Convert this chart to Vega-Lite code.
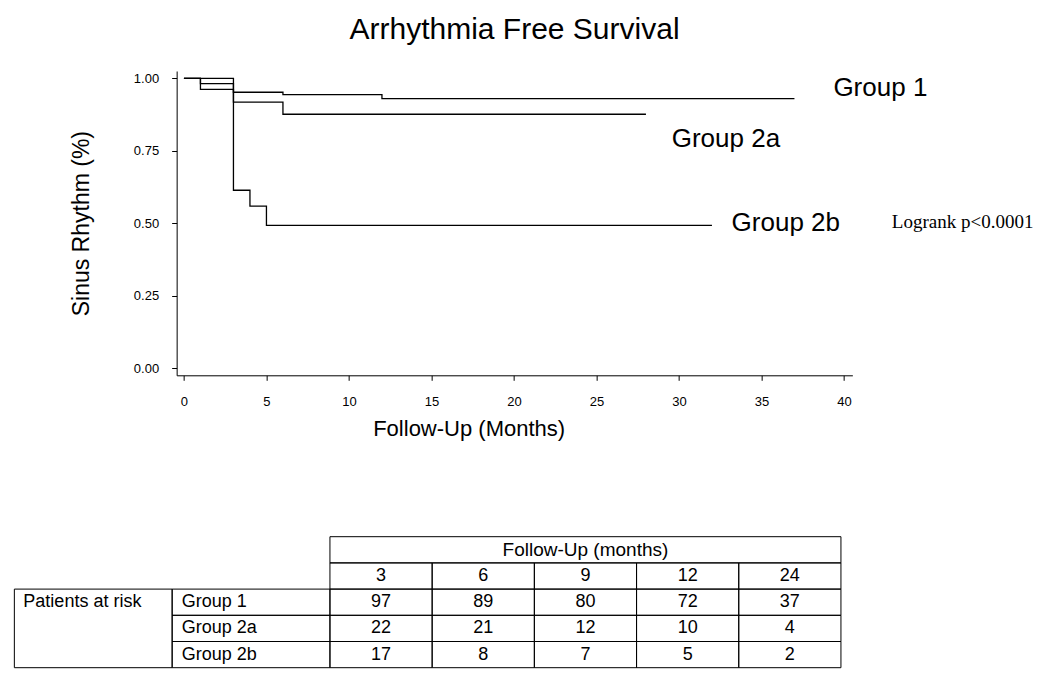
{
  "$schema": "https://vega.github.io/schema/vega-lite/v6.json",
  "background": "white",
  "padding": {"left": 13, "top": 15, "right": 5, "bottom": 4},
  "bounds": "flush",
  "center": true,
  "spacing": 160.7,
  "datasets": {
    "km": [
      {"group": "Group 1", "month": 0, "surv": 1},
      {"group": "Group 1", "month": 1, "surv": 0.982},
      {"group": "Group 1", "month": 3, "surv": 0.952},
      {"group": "Group 1", "month": 6, "surv": 0.944},
      {"group": "Group 1", "month": 12, "surv": 0.93},
      {"group": "Group 1", "month": 37, "surv": 0.93},
      {"group": "Group 2a", "month": 0, "surv": 1},
      {"group": "Group 2a", "month": 1, "surv": 0.962},
      {"group": "Group 2a", "month": 3, "surv": 0.918},
      {"group": "Group 2a", "month": 6, "surv": 0.876},
      {"group": "Group 2a", "month": 28, "surv": 0.876},
      {"group": "Group 2b", "month": 0, "surv": 1},
      {"group": "Group 2b", "month": 3, "surv": 0.614},
      {"group": "Group 2b", "month": 4, "surv": 0.559},
      {"group": "Group 2b", "month": 5, "surv": 0.493},
      {"group": "Group 2b", "month": 32, "surv": 0.493}
    ],
    "labels": [
      {"label": "Group 1", "month": 39.36, "surv": 0.966},
      {"label": "Group 2a", "month": 29.56, "surv": 0.789},
      {"label": "Group 2b", "month": 33.19, "surv": 0.502}
    ],
    "notes": [
      {"label": "Logrank p<0.0001", "month": 42.9, "surv": 0.506}
    ],
    "risk": [
      {"group": "Group 1", "month": 3, "n": 97},
      {"group": "Group 1", "month": 6, "n": 89},
      {"group": "Group 1", "month": 9, "n": 80},
      {"group": "Group 1", "month": 12, "n": 72},
      {"group": "Group 1", "month": 24, "n": 37},
      {"group": "Group 2a", "month": 3, "n": 22},
      {"group": "Group 2a", "month": 6, "n": 21},
      {"group": "Group 2a", "month": 9, "n": 12},
      {"group": "Group 2a", "month": 12, "n": 10},
      {"group": "Group 2a", "month": 24, "n": 4},
      {"group": "Group 2b", "month": 3, "n": 17},
      {"group": "Group 2b", "month": 6, "n": 8},
      {"group": "Group 2b", "month": 9, "n": 7},
      {"group": "Group 2b", "month": 12, "n": 5},
      {"group": "Group 2b", "month": 24, "n": 2}
    ],
    "header": [{"header": "Follow-Up (months)"}],
    "rowlabel": [{"label": "Patients at risk"}]
  },
  "vconcat": [
    {
      "width": 675.7,
      "height": 304.3,
      "title": {
        "text": "Arrhythmia Free Survival",
        "fontSize": 30,
        "font": "Liberation Sans",
        "fontWeight": "normal",
        "color": "black",
        "anchor": "middle",
        "frame": "group",
        "offset": 26
      },
      "layer": [
        {
          "data": {"name": "km"},
          "mark": {"type": "line", "interpolate": "step-after", "color": "black", "strokeWidth": 1.3},
          "encoding": {
            "x": {
              "field": "month", "type": "quantitative",
              "scale": {"domain": [-0.442, 40.509], "nice": false, "zero": false},
              "axis": {
                "values": [0, 5, 10, 15, 20, 25, 30, 35, 40],
                "format": "d",
                "title": "Follow-Up (Months)",
                "tickSize": 5,
                "labelFontSize": 13,
                "labelPadding": 15,
                "titleFontSize": 22,
                "titlePadding": 10,
                "titleX": 292
              }
            },
            "y": {
              "field": "surv", "type": "quantitative",
              "scale": {"domain": [-0.0241, 1.0252], "nice": false, "zero": false},
              "axis": {
                "values": [0, 0.25, 0.5, 0.75, 1],
                "format": ".2f",
                "title": "Sinus Rhythm (%)",
                "tickSize": 5,
                "labelFontSize": 13,
                "labelPadding": 13,
                "titleFontSize": 23,
                "titlePadding": 40
              }
            },
            "detail": {"field": "group"}
          }
        },
        {
          "data": {"name": "labels"},
          "mark": {"type": "text", "align": "left", "baseline": "middle", "fontSize": 26, "font": "Liberation Sans", "color": "black"},
          "encoding": {
            "x": {"field": "month", "type": "quantitative"},
            "y": {"field": "surv", "type": "quantitative"},
            "text": {"field": "label"}
          }
        },
        {
          "data": {"name": "notes"},
          "mark": {"type": "text", "align": "left", "baseline": "middle", "fontSize": 19, "font": "Liberation Serif", "color": "black"},
          "encoding": {
            "x": {"field": "month", "type": "quantitative"},
            "y": {"field": "surv", "type": "quantitative"},
            "text": {"field": "label"}
          }
        }
      ]
    },
    {
      "width": 1000.3,
      "height": 131,
      "layer": [
        {
          "data": {"name": "risk"},
          "layer": [
            {
              "mark": {"type": "rect", "filled": false, "color": "black", "strokeWidth": 1},
              "encoding": {
                "x": {"field": "month", "type": "ordinal", "axis": null,
                      "scale": {"type": "band", "domain": [3, 6, 9, 12, 24], "range": [315.6, 826.6], "paddingInner": 0, "paddingOuter": 0}},
                "y": {"field": "group", "type": "nominal", "axis": null,
                      "scale": {"type": "band", "domain": ["header", "months", "Group 1", "Group 2a", "Group 2b"], "paddingInner": 0, "paddingOuter": 0}}
              }
            },
            {
              "mark": {"type": "text", "fontSize": 18, "font": "Liberation Sans", "color": "black", "baseline": "middle"},
              "encoding": {
                "x": {"field": "month", "type": "ordinal"},
                "y": {"field": "group", "type": "nominal"},
                "text": {"field": "n"}
              }
            },
            {
              "transform": [{"aggregate": [{"op": "count", "as": "k"}], "groupby": ["month"]}],
              "mark": {"type": "rect", "filled": false, "color": "black", "strokeWidth": 1},
              "encoding": {
                "x": {"field": "month", "type": "ordinal"},
                "y": {"datum": "months", "type": "nominal"}
              }
            },
            {
              "transform": [{"aggregate": [{"op": "count", "as": "k"}], "groupby": ["month"]}],
              "mark": {"type": "text", "fontSize": 18, "font": "Liberation Sans", "color": "black", "baseline": "middle"},
              "encoding": {
                "x": {"field": "month", "type": "ordinal"},
                "y": {"datum": "months", "type": "nominal"},
                "text": {"field": "month"}
              }
            }
          ]
        },
        {
          "data": {"name": "header"},
          "layer": [
            {
              "mark": {"type": "rect", "filled": false, "color": "black", "strokeWidth": 1},
              "encoding": {
                "x": {"field": "header", "type": "nominal", "axis": null,
                      "scale": {"type": "band", "range": [315.6, 826.6], "paddingInner": 0, "paddingOuter": 0}},
                "y": {"datum": "header", "type": "nominal", "axis": null,
                      "scale": {"type": "band", "domain": ["header", "months", "Group 1", "Group 2a", "Group 2b"], "paddingInner": 0, "paddingOuter": 0}}
              }
            },
            {
              "mark": {"type": "text", "fontSize": 19, "font": "Liberation Sans", "color": "black", "baseline": "middle"},
              "encoding": {
                "x": {"field": "header", "type": "nominal"},
                "y": {"datum": "header", "type": "nominal"},
                "text": {"field": "header"}
              }
            }
          ]
        },
        {
          "data": {"name": "risk"},
          "transform": [{"aggregate": [{"op": "count", "as": "k"}], "groupby": ["group"]}],
          "layer": [
            {
              "mark": {"type": "rect", "filled": false, "color": "black", "strokeWidth": 1},
              "encoding": {
                "x": {"datum": "group", "type": "nominal", "axis": null,
                      "scale": {"type": "band", "domain": ["risk", "group"], "range": [0, 315.6], "paddingInner": 0, "paddingOuter": 0}},
                "y": {"field": "group", "type": "nominal", "axis": null,
                      "scale": {"type": "band", "domain": ["header", "months", "Group 1", "Group 2a", "Group 2b"], "paddingInner": 0, "paddingOuter": 0}}
              }
            },
            {
              "mark": {"type": "text", "fontSize": 18, "font": "Liberation Sans", "color": "black", "baseline": "middle", "align": "left", "dx": 9.5},
              "encoding": {
                "x": {"datum": "group", "type": "nominal", "bandPosition": 0},
                "y": {"field": "group", "type": "nominal"},
                "text": {"field": "group"}
              }
            }
          ]
        },
        {
          "data": {"name": "rowlabel"},
          "layer": [
            {
              "mark": {"type": "rect", "filled": false, "color": "black", "strokeWidth": 1},
              "encoding": {
                "x": {"datum": "risk", "type": "nominal", "axis": null,
                      "scale": {"type": "band", "domain": ["risk", "group"], "range": [0, 315.6], "paddingInner": 0, "paddingOuter": 0}},
                "y": {"field": "label", "type": "nominal", "axis": null,
                      "scale": {"type": "band", "range": [52.4, 131], "paddingInner": 0, "paddingOuter": 0}}
              }
            },
            {
              "mark": {"type": "text", "fontSize": 18, "font": "Liberation Sans", "color": "black", "baseline": "middle", "align": "left", "dx": 9},
              "encoding": {
                "x": {"datum": "risk", "type": "nominal", "bandPosition": 0},
                "y": {"field": "label", "type": "nominal", "bandPosition": 0.16667},
                "text": {"field": "label"}
              }
            }
          ]
        }
      ],
      "resolve": {"scale": {"x": "independent", "y": "independent"}}
    }
  ],
  "config": {
    "view": {"stroke": null},
    "font": "Liberation Sans",
    "axis": {
      "grid": false,
      "domainColor": "black",
      "tickColor": "black",
      "labelColor": "black",
      "titleColor": "black",
      "labelFont": "Liberation Sans",
      "titleFont": "Liberation Sans",
      "titleFontWeight": "normal"
    }
  }
}
